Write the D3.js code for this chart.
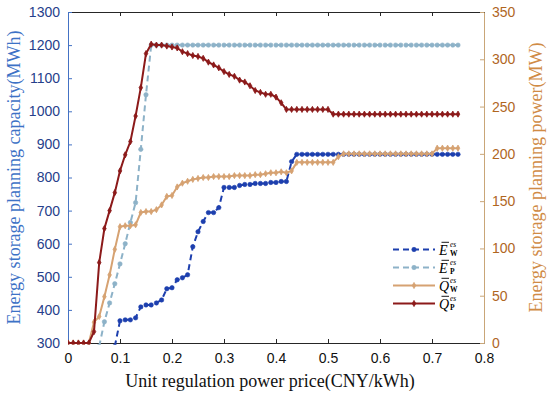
<!DOCTYPE html>
<head>
    <meta charset="utf-8">
</head>

<style type="text/css">
    body { margin: 0; background: #fff; }
    svg { display: block; }
    .tick text { font-family: "Liberation Sans", Arial, sans-serif; font-size: 14px; }
    .title { font-family: "Liberation Serif", "Times New Roman", serif; font-size: 18px; }
    .leg { font-family: "Liberation Serif", "Times New Roman", serif; }
</style>

<body>
    <div class="g-chart"></div>
</body>

<script src="https://d3js.org/d3.v7.min.js"></script>

<script>

// unit regulation power price (CNY/kWh)
var price = [0.00,0.01,0.02,0.03,0.04,0.05,0.06,0.07,0.08,0.09,
             0.10,0.11,0.12,0.13,0.14,0.15,0.16,0.17,0.18,0.19,
             0.20,0.21,0.22,0.23,0.24,0.25,0.26,0.27,0.28,0.29,
             0.30,0.31,0.32,0.33,0.34,0.35,0.36,0.37,0.38,0.39,
             0.40,0.41,0.42,0.43,0.44,0.45,0.46,0.47,0.48,0.49,
             0.50,0.51,0.52,0.53,0.54,0.55,0.56,0.57,0.58,0.59,
             0.60,0.61,0.62,0.63,0.64,0.65,0.66,0.67,0.68,0.69,
             0.70,0.71,0.72,0.73,0.74,0.75];

// capacity, MWh (left axis)
var capW = [null,null,null,null,null,null,null,null,null,290,
            367,370,370,376,409,415,415,421,430,464,
            467,491,497,506,591,636,667,694,694,709,
            770,770,770,776,779,779,782,782,782,785,
            785,788,788,848,870,870,870,870,870,870,
            870,870,870,870,870,870,870,870,870,870,
            870,870,870,870,870,870,870,870,870,870,
            870,870,870,870,870,870];

var capP = [null,null,null,null,null,null,290,364,421,479,
            539,600,664,724,885,1050,1200,1200,1200,1200,
            1200,1200,1200,1200,1200,1200,1200,1200,1200,1200,
            1200,1200,1200,1200,1200,1200,1200,1200,1200,1200,
            1200,1200,1200,1200,1200,1200,1200,1200,1200,1200,
            1200,1200,1200,1200,1200,1200,1200,1200,1200,1200,
            1200,1200,1200,1200,1200,1200,1200,1200,1200,1200,
            1200,1200,1200,1200,1200,1200];

// power, MW (right axis)
var powW = [0,0,0,0,0,22,28,49,72,99,
            123,124,124,125,138,139,139,141,146,155,
            156,165,169,171,173,174,175,175,176,176,
            176,176,177,177,177,177,178,178,179,180,
            180,181,180,182,191,191,191,191,191,191,
            191,191,197,200,200,200,200,200,200,200,
            200,200,200,200,200,200,200,200,200,200,
            200,206,206,206,206,206];

var powP = [0,0,0,0,0,12,85,121,140,159,
            182,199,213,240,270,306,316,315,315,314,
            313,312,308,306,304,303,301,297,294,291,
            287,284,282,278,276,272,267,265,263,263,
            260,254,247,247,247,247,247,247,247,247,
            247,242,242,242,242,242,242,242,242,242,
            242,242,242,242,242,242,242,242,242,242,
            242,242,242,242,242,242];

var xTicks = [0,0.1,0.2,0.3,0.4,0.5,0.6,0.7,0.8];
var leftTicks = [300,400,500,600,700,800,900,1000,1100,1200,1300];
var rightTicks = [0,50,100,150,200,250,300,350];

var series = [
    {key: "EW", vals: capW, axis: "left",  color: "#1d3fae", dash: "6,4", marker: "circle", sym: "E", sub: "W"},
    {key: "EP", vals: capP, axis: "left",  color: "#8db2c8", dash: "6,4", marker: "circle", sym: "E", sub: "P"},
    {key: "QW", vals: powW, axis: "right", color: "#d6a272", dash: null,  marker: "diamond", sym: "Q", sub: "W"},
    {key: "QP", vals: powP, axis: "right", color: "#8c1a1a", dash: null,  marker: "diamond", sym: "Q", sub: "P"}
];

var margin = {top: 12, right: 66, bottom: 55, left: 68};
var W = 550, H = 398;
var w = W - margin.left - margin.right,
    h = H - margin.top - margin.bottom;

var svg = d3.select(".g-chart").append("svg")
    .attr("width", W)
    .attr("height", H);

var g = svg.append("g")
    .attr("transform", "translate(" + margin.left + "," + margin.top + ")");

var xscale = d3.scaleLinear().domain([0, 0.8]).range([0, w]);
var yLeft = d3.scaleLinear().domain([300, 1300]).range([h, 0]);
var yRight = d3.scaleLinear().domain([0, 350]).range([h, 0]);

svg.append("defs").append("clipPath").attr("id", "plotclip")
  .append("rect").attr("x", 0).attr("y", -2).attr("width", w).attr("height", h + 3.5);

// axes
var leftColor = "#4472c4", leftText = "#26408b";
var rightColor = "#c9a678", rightText = "#b0661f";

var xAxis = g.append("g")
    .attr("transform", "translate(0," + h + ")")
    .call(d3.axisBottom(xscale).tickValues(xTicks).tickSizeInner(-4).tickSizeOuter(0)
        .tickPadding(10).tickFormat(function(d) { return d === 0 ? "0" : d3.format(".1f")(d); }));
xAxis.select(".domain").attr("stroke", "#262626");
xAxis.selectAll(".tick line").attr("stroke", "#262626");
xAxis.selectAll(".tick text").attr("fill", "#111");

var xTop = g.append("g")
    .call(d3.axisTop(xscale).tickValues(xTicks).tickSizeInner(-4).tickSizeOuter(0).tickFormat(""));
xTop.select(".domain").attr("stroke", "#262626");
xTop.selectAll(".tick line").attr("stroke", "#262626");

var lAxis = g.append("g")
    .call(d3.axisLeft(yLeft).tickValues(leftTicks).tickSizeInner(-4).tickSizeOuter(0)
        .tickPadding(8).tickFormat(d3.format("d")));
lAxis.select(".domain").attr("stroke", leftColor);
lAxis.selectAll(".tick line").attr("stroke", leftColor);
lAxis.selectAll(".tick text").attr("fill", leftText);

var rAxis = g.append("g")
    .attr("transform", "translate(" + w + ",0)")
    .call(d3.axisRight(yRight).tickValues(rightTicks).tickSizeInner(-4).tickSizeOuter(0)
        .tickPadding(8).tickFormat(d3.format("d")));
rAxis.select(".domain").attr("stroke", rightColor);
rAxis.selectAll(".tick line").attr("stroke", rightColor);
rAxis.selectAll(".tick text").attr("fill", rightText);

// titles
svg.append("text").attr("class", "title")
    .attr("transform", "translate(20," + (margin.top + h / 2) + ") rotate(-90)")
    .attr("text-anchor", "middle")
    .attr("fill", "#3d72c6")
    .text("Energy storage planning capacity(MWh)");

svg.append("text").attr("class", "title")
    .attr("transform", "translate(542," + (margin.top + h / 2) + ") rotate(-90)")
    .attr("text-anchor", "middle")
    .attr("fill", "#d08b45")
    .text("Energy storage planning power(MW)");

svg.append("text").attr("class", "title")
    .attr("x", margin.left + w / 2 - 6)
    .attr("y", 387)
    .attr("text-anchor", "middle")
    .attr("fill", "#111")
    .text("Unit regulation power price(CNY/kWh)");

// series
var plot = g.append("g").attr("clip-path", "url(#plotclip)");

function yFor(s) { return s.axis === "left" ? yLeft : yRight; }

function drawMarker(sel, s) {
    if (s.marker === "circle") {
        sel.append("circle").attr("r", 2.2).attr("fill", s.color).attr("stroke", s.color).attr("stroke-width", 0.6);
    } else {
        sel.append("path").attr("d", d3.symbol().type(d3.symbolDiamond).size(11))
            .attr("fill", s.color).attr("stroke", s.color).attr("stroke-width", 0.8);
    }
}

series.forEach(function(s) {
    var ys = yFor(s);
    var pts = price.map(function(p, i) { return {x: p, v: s.vals[i]}; })
        .filter(function(d) { return d.v !== null; });

    var line = d3.line()
        .x(function(d) { return xscale(d.x); })
        .y(function(d) { return ys(d.v); });

    plot.append("path")
        .attr("d", line(pts))
        .attr("fill", "none")
        .attr("stroke", s.color)
        .attr("stroke-width", 2)
        .attr("stroke-dasharray", s.dash);

    plot.append("g").selectAll("g")
        .data(pts)
        .enter().append("g")
        .attr("transform", function(d) { return "translate(" + xscale(d.x) + "," + ys(d.v) + ")"; })
        .each(function() { drawMarker(d3.select(this), s); });
});

// legend
var legend = svg.append("g").attr("class", "leg");
var legRows = [249.5, 267.5, 285.5, 303.5];

series.forEach(function(s, i) {
    var row = legend.append("g").attr("transform", "translate(393," + legRows[i] + ")");
    row.append("line")
        .attr("x1", 0).attr("x2", 42).attr("y1", 0).attr("y2", 0)
        .attr("stroke", s.color).attr("stroke-width", 2)
        .attr("stroke-dasharray", s.dash);
    drawMarker(row.append("g").attr("transform", "translate(21,0)"), s);

    var tx = 46;
    row.append("line")
        .attr("x1", tx + 2.5).attr("x2", tx + 10).attr("y1", -7.2).attr("y2", -7.2)
        .attr("stroke", "#000").attr("stroke-width", 0.9);

    // one text per row: symbol, superscript, then subscript under it
    var t = row.append("text")
        .attr("x", tx).attr("y", 5)
        .attr("fill", "#000");
    t.append("tspan")
        .attr("font-size", 14).attr("font-style", "italic")
        .text(s.sym);
    t.append("tspan")
        .attr("x", tx + 11).attr("dy", -8)
        .attr("font-size", 7.5).attr("font-style", "italic")
        .text("es");
    t.append("tspan")
        .attr("x", tx + 11).attr("dy", 9.5)
        .attr("font-size", 7.5).attr("font-weight", "bold")
        .text(s.sub);
});

</script>
